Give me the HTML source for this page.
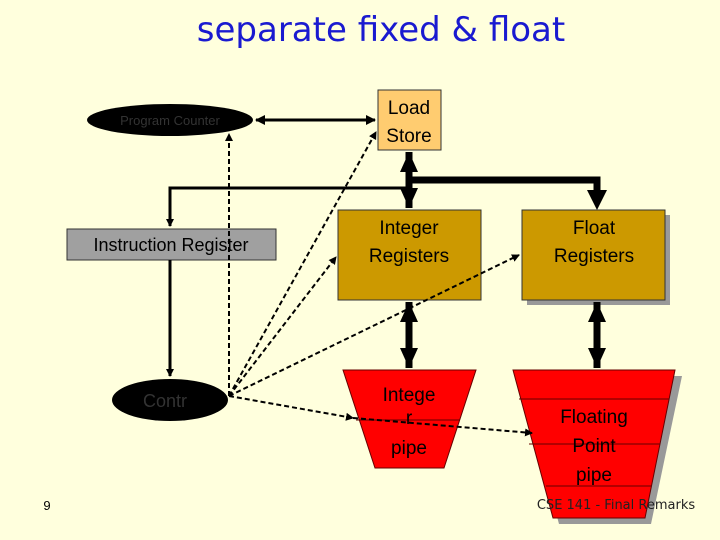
<!DOCTYPE html>
<html><head><meta charset="utf-8"><style>
html,body{margin:0;padding:0;background:#FFFFDD;}
svg{display:block;font-family:"Liberation Sans",Arial,sans-serif;}
</style></head><body>
<svg width="720" height="540" viewBox="0 0 720 540" xmlns="http://www.w3.org/2000/svg">
<defs>
<marker id="ah" markerWidth="8" markerHeight="8" refX="7" refY="4" orient="auto" markerUnits="userSpaceOnUse"><path d="M0,0 L8,4 L0,8 z" fill="#000"/></marker>
<marker id="as" markerWidth="10" markerHeight="10" refX="9" refY="5" orient="auto-start-reverse" markerUnits="userSpaceOnUse"><path d="M0,0 L10,5 L0,10 z" fill="#000"/></marker>
<marker id="big" markerWidth="22" markerHeight="18" refX="20" refY="9" orient="auto-start-reverse" markerUnits="userSpaceOnUse"><path d="M0,0 L20,9 L0,18 z" fill="#000"/></marker>
</defs>
<rect width="720" height="540" fill="#FFFFDD"/>
<text x="381" y="41" text-anchor="middle" font-family="DejaVu Sans,sans-serif" font-size="34" fill="#1a1ad0">separate fixed &amp; float</text>

<ellipse cx="170" cy="120" rx="83" ry="16" fill="#000"/>
<text x="170" y="125" text-anchor="middle" font-size="13" fill="#333">Program Counter</text>
<line x1="256" y1="120" x2="375" y2="120" stroke="#000" stroke-width="3" marker-start="url(#as)" marker-end="url(#as)"/>

<rect x="378" y="90" width="63" height="60" fill="#FFCC70" stroke="#333"/>
<text x="409" y="114" text-anchor="middle" font-size="19">Load</text>
<text x="409" y="142" text-anchor="middle" font-size="19">Store</text>

<line x1="409" y1="152" x2="409" y2="208" stroke="#000" stroke-width="7" marker-start="url(#big)" marker-end="url(#big)"/>
<polyline points="409,180 597,180 597,195" fill="none" stroke="#000" stroke-width="7"/>
<path d="M587,190 L607,190 L597,210 z" fill="#000"/>
<polyline points="409,188 170,188 170,226" fill="none" stroke="#000" stroke-width="3" marker-end="url(#ah)"/>

<rect x="67" y="229" width="209" height="31" fill="#A0A0A0" stroke="#333"/>
<text x="171" y="251" text-anchor="middle" font-size="18">Instruction Register</text>
<line x1="170" y1="260" x2="170" y2="376" stroke="#000" stroke-width="3" marker-end="url(#ah)"/>

<rect x="338" y="210" width="143" height="90" fill="#CC9900" stroke="#333"/>
<text x="409" y="234" text-anchor="middle" font-size="19">Integer</text>
<text x="409" y="262" text-anchor="middle" font-size="19">Registers</text>
<rect x="527" y="215" width="143" height="90" fill="#999"/>
<rect x="522" y="210" width="143" height="90" fill="#CC9900" stroke="#333"/>
<text x="594" y="234" text-anchor="middle" font-size="19">Float</text>
<text x="594" y="262" text-anchor="middle" font-size="19">Registers</text>

<line x1="409" y1="302" x2="409" y2="368" stroke="#000" stroke-width="7" marker-start="url(#big)" marker-end="url(#big)"/>
<line x1="597" y1="302" x2="597" y2="368" stroke="#000" stroke-width="7" marker-start="url(#big)" marker-end="url(#big)"/>

<polygon points="343,370 476,370 444,468 375,468" fill="#FF0000" stroke="#600"/>
<line x1="356" y1="420" x2="460" y2="420" stroke="#600"/>
<text x="409" y="401" text-anchor="middle" font-size="19">Intege</text>
<text x="409" y="424" text-anchor="middle" font-size="19">r</text>
<text x="409" y="454" text-anchor="middle" font-size="19">pipe</text>

<polygon points="519,376 682,376 651,524 559,524" fill="#999"/>
<polygon points="513,370 675,370 645,518 553,518" fill="#FF0000" stroke="#600"/>
<line x1="519" y1="399" x2="669" y2="399" stroke="#600"/>
<line x1="529" y1="444" x2="660" y2="444" stroke="#600"/>
<line x1="546" y1="486" x2="651" y2="486" stroke="#600"/>
<text x="594" y="423" text-anchor="middle" font-size="19">Floating</text>
<text x="594" y="452" text-anchor="middle" font-size="19">Point</text>
<text x="594" y="481" text-anchor="middle" font-size="19">pipe</text>

<ellipse cx="170" cy="400" rx="58" ry="21" fill="#000"/>
<text x="165" y="407" text-anchor="middle" font-size="18" fill="#333">Contr</text>

<g stroke="#000" stroke-width="2" stroke-dasharray="5,3" fill="none">
<line x1="229" y1="396" x2="229" y2="134" marker-end="url(#ah)"/>
<line x1="229" y1="396" x2="376" y2="132" marker-end="url(#ah)"/>
<line x1="229" y1="396" x2="336" y2="257" marker-end="url(#ah)"/>
<line x1="229" y1="396" x2="519" y2="255" marker-end="url(#ah)"/>
<line x1="229" y1="396" x2="353" y2="418" marker-end="url(#ah)"/>
<line x1="353" y1="418" x2="532" y2="433" marker-end="url(#ah)"/>
</g>

<text x="47" y="510" text-anchor="middle" font-size="13">9</text>
<text x="616" y="509" text-anchor="middle" font-family="DejaVu Sans,sans-serif" font-size="13" fill="#222">CSE 141 - Final Remarks</text>
</svg>
</body></html>
